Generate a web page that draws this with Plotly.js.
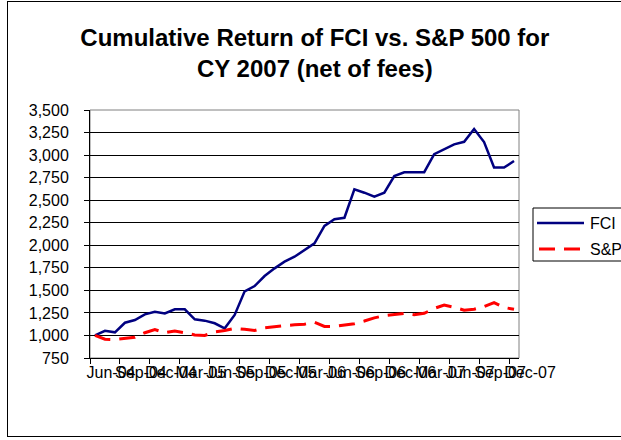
<!DOCTYPE html>
<html>
<head>
<meta charset="utf-8">
<script src="https://cdn.plot.ly/plotly-3.0.1.min.js"></script>
<style>
  html, body { margin: 0; padding: 0; background: #fff; }
  #wrap { position: relative; width: 621px; height: 440px; overflow: hidden; }
  #chart { position: absolute; left: 0; top: 0; width: 621px; height: 440px; }
  #frame { position: absolute; left: 7px; top: 1px; width: 640px; height: 436px; border: 1px solid #000; pointer-events: none; box-sizing: border-box; }
</style>
</head>
<body>
<div id="wrap">
  <div id="chart"></div>
  <div id="frame"></div>
</div>
<script>
const months = [
  "Jun-04","Jul-04","Aug-04","Sep-04","Oct-04","Nov-04","Dec-04",
  "Jan-05","Feb-05","Mar-05","Apr-05","May-05","Jun-05","Jul-05","Aug-05","Sep-05","Oct-05","Nov-05","Dec-05",
  "Jan-06","Feb-06","Mar-06","Apr-06","May-06","Jun-06","Jul-06","Aug-06","Sep-06","Oct-06","Nov-06","Dec-06",
  "Jan-07","Feb-07","Mar-07","Apr-07","May-07","Jun-07","Jul-07","Aug-07","Sep-07","Oct-07","Nov-07","Dec-07"
];
const fci = [1000,1052,1035,1141,1171,1234,1263,1245,1290,1290,1179,1164,1135,1079,1227,1489,1548,1659,1744,1818,1873,1947,2021,2215,2288,2305,2620,2583,2538,2583,2768,2810,2810,2810,3010,3063,3119,3147,3289,3145,2862,2862,2934];
const sp500 = [1000,958,955,965,980,1030,1065,1030,1050,1030,1005,1000,1040,1055,1079,1068,1055,1085,1100,1110,1118,1125,1146,1100,1100,1112,1130,1160,1195,1220,1235,1245,1230,1245,1300,1338,1312,1280,1290,1320,1365,1310,1290];
const seriesNames = ["FCI", "S&P"];
const seriesColors = ["#000080", "#FF0000"];
const titleText = "Cumulative Return of FCI vs. S&P 500 for<br>CY 2007 (net of fees)";

const FONT = "'Liberation Sans', Arial, sans-serif";
const SP_DASH = "16px,9px";

const traces = [
  { x: months, y: fci, name: seriesNames[0], type: "scatter", mode: "lines",
    line: { color: seriesColors[0], width: 2.5 } },
  { x: months, y: sp500, name: seriesNames[1], type: "scatter", mode: "lines",
    line: { color: seriesColors[1], width: 3, dash: SP_DASH } }
];

// plot area in pixels: x 90..519, y 110..358
const PL = 90, PR = 519, PT = 110, PB = 358;
const px = p => (p - PL) / (PR - PL);
const py = p => (PB - p) / (PB - PT);

// legend box drawn to look like the original (partly cut at the right edge)
const legendShapes = [
  { type: "rect", xref: "paper", yref: "paper",
    x0: px(533), x1: px(660), y0: py(261), y1: py(208),
    line: { color: "#000", width: 1 }, fillcolor: "#fff", layer: "above" },
  { type: "line", xref: "paper", yref: "paper",
    x0: px(537), x1: px(584), y0: py(223), y1: py(223),
    line: { color: seriesColors[0], width: 2.5 } },
  { type: "line", xref: "paper", yref: "paper",
    x0: px(539), x1: px(584), y0: py(249), y1: py(249),
    line: { color: seriesColors[1], width: 3, dash: SP_DASH } }
];
const legendLabels = [
  { text: seriesNames[0], xref: "paper", yref: "paper", x: px(588), y: py(223),
    xanchor: "left", yanchor: "middle", showarrow: false,
    font: { family: FONT, size: 16, color: "#000" } },
  { text: seriesNames[1], xref: "paper", yref: "paper", x: px(588), y: py(249),
    xanchor: "left", yanchor: "middle", showarrow: false,
    font: { family: FONT, size: 16, color: "#000" } }
];

const layout = {
  width: 621, height: 440,
  margin: { l: PL, r: 621 - PR, t: PT, b: 440 - PB, autoexpand: false },
  paper_bgcolor: "rgba(0,0,0,0)",
  plot_bgcolor: "#ffffff",
  font: { family: FONT, size: 16, color: "#000" },
  title: {
    text: titleText,
    font: { family: FONT, size: 24, color: "#000", weight: "bold" },
    xref: "container", x: 0.507, xanchor: "center",
    yref: "container", y: 1 - 46/440, yanchor: "middle"
  },
  xaxis: {
    type: "category",
    range: [-0.5, months.length - 0.5],
    tickmode: "linear", tick0: 0, dtick: 3,
    tickangle: 0,
    tickson: "boundaries",
    ticklabelshift: 16,
    ticks: "outside", ticklen: 5, tickcolor: "#000",
    showgrid: false, zeroline: false,
    showline: true, linecolor: "#000", linewidth: 1,
    tickfont: { family: FONT, size: 16, color: "#000" }
  },
  yaxis: {
    range: [750, 3500],
    tickmode: "linear", tick0: 750, dtick: 250,
    tickformat: ",d",
    ticks: "outside", ticklen: 5, tickcolor: "#000",
    ticklabelstandoff: 12,
    showgrid: true, gridcolor: "#000", gridwidth: 1,
    zeroline: false,
    showline: true, linecolor: "#000", linewidth: 1,
    tickfont: { family: FONT, size: 16, color: "#000" }
  },
  shapes: [
    { type: "rect", xref: "paper", yref: "paper", x0: 0, x1: 1, y0: 0, y1: 1,
      line: { color: "#808080", width: 1 }, layer: "below" }
  ].concat(legendShapes),
  annotations: legendLabels,
  showlegend: false
};

Plotly.newPlot("chart", traces, layout, { staticPlot: true, displayModeBar: false });
</script>
</body>
</html>
